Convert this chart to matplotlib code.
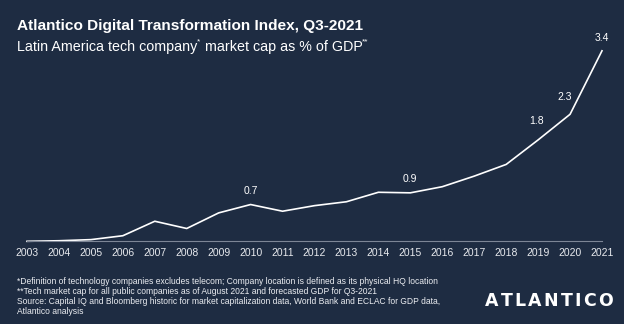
import matplotlib
matplotlib.use('Agg')
import matplotlib.pyplot as plt

# ── Data ──────
years = list(range(2003, 2022))
values = [0.0, 0.01, 0.03, 0.10, 0.36, 0.23, 0.51, 0.66, 0.54, 0.64,
          0.71, 0.88, 0.87, 0.98, 1.17, 1.38, 1.82, 2.28, 3.42]
label_years = [2010, 2015, 2019, 2020, 2021]
label_texts = ['0.7', '0.9', '1.8', '2.3', '3.4']

title = 'Atlantico Digital Transformation Index, Q3-2021'
# subtitle pieces: (text, is_superscript)
subtitle = [('Latin America tech company', False), ('*', True),
            (' market cap as % of GDP', False), ('**', True)]
notes = [
    '*Definition of technology companies excludes telecom; Company location is defined as its physical HQ location',
    '**Tech market cap for all public companies as of August 2021 and forecasted GDP for Q3-2021',
    'Source: Capital IQ and Bloomberg historic for market capitalization data, World Bank and ECLAC for GDP data,',
    'Atlantico analysis',
]

BG = '#1e2c42'
plt.rcParams['font.family'] = ['Liberation Sans', 'DejaVu Sans']

W, H = 624, 324
fig = plt.figure(figsize=(W / 100, H / 100), dpi=100, facecolor=BG)
renderer = fig.canvas.get_renderer()


def fx(px):
    return px / W


def fy(py):
    return 1 - py / H


# plot area: 2003 at x=27px, 2021 at x=602px, 0 at y=241px
ax = fig.add_axes([fx(27), fy(241.3), fx(602) - fx(27), fy(51.9) - fy(241.3)])
ax.set_facecolor(BG)
ax.plot(years, values, color='white', lw=1.2, clip_on=False)
ax.set_xlim(2003, 2021)
ax.set_ylim(0, 3.4)

for s in ['top', 'right', 'left']:
    ax.spines[s].set_visible(False)
ax.spines['bottom'].set_color('#7d8696')
ax.spines['bottom'].set_linewidth(0.8)
ax.set_yticks([])
ax.set_xticks(years)
ax.set_xticklabels([str(y) for y in years])
ax.tick_params(axis='x', length=0, pad=5, labelsize=7.5, labelcolor='#e8eaee')

offsets = {2010: (0, 9), 2015: (0, 9), 2019: (-2, 14), 2020: (-5, 12), 2021: (0, 8)}
for yr, txt in zip(label_years, label_texts):
    v = values[years.index(yr)]
    ax.annotate(txt, (yr, v), xytext=offsets[yr], textcoords='offset pixels',
                ha='center', va='bottom', color='white', fontsize=7.5,
                annotation_clip=False)

fig.text(fx(17), fy(26), title, color='white', fontsize=11.1, fontweight='bold',
         ha='left', va='center')

# subtitle drawn piece by piece so the asterisks sit as superscripts
x = 17
for txt, sup in subtitle:
    t = fig.text(fx(x), fy(47 - (5 if sup else 0)), txt, color='white',
                 fontsize=6 if sup else 10.3, ha='left', va='center')
    x += t.get_window_extent(renderer).width

for i, line in enumerate(notes):
    fig.text(fx(17), fy(281 + i * 10.3), line, color='#eceef2', fontsize=6.15,
             ha='left', va='center')

# logo, letters spread out to fill about 485..616 px
logo = 'ATLANTICO'
letters = [fig.text(0, fy(300.5), ch, color='white', fontsize=12.5,
                    fontweight='bold', family='DejaVu Sans', ha='left', va='center')
           for ch in logo]
widths = [t.get_window_extent(renderer).width for t in letters]
gap = (128 - sum(widths)) / (len(logo) - 1)
x = 485
for t, w in zip(letters, widths):
    t.set_x(fx(x))
    x += w + gap

fig.savefig('out.png', dpi=100, facecolor=BG)
